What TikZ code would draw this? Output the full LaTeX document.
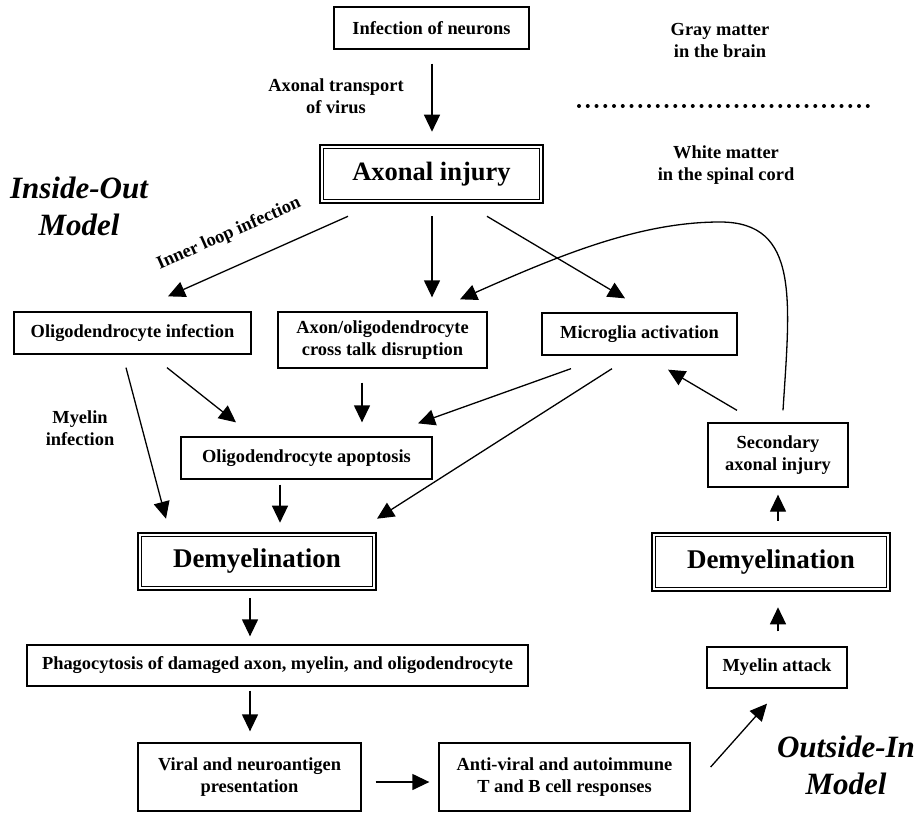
\documentclass[tikz,border=0pt]{standalone}
\usepackage{fontspec}
\setmainfont{Liberation Serif}
\usetikzlibrary{arrows.meta,calc}
\tikzset{
  box/.style={draw, line width=1.3pt, inner sep=0pt, align=center,
    font=\bfseries\fontsize{18.4}{22}\selectfont},
  dbox/.style={draw, line width=2.6pt, inner sep=0pt, align=center,
    font=\bfseries\fontsize{27}{30}\selectfont},
  inframe/.style={line width=1pt},
  lbl/.style={inner sep=0pt, align=center, font=\bfseries\fontsize{18.4}{22}\selectfont},
  model/.style={inner sep=0pt, align=center, font=\bfseries\itshape\fontsize{31}{37}\selectfont},
  arr/.style={line width=1.3pt, -{Triangle[length=17pt,width=16pt]}}
}
\begin{document}
\begin{tikzpicture}[x=1pt,y=-1pt]
\fill[white] (0,0) rectangle (921,814);
\useasboundingbox (0,0) rectangle (921,814);

% nodes
\node[box, minimum width=195pt, minimum height=42pt] (inf) at (431.5,28) {Infection of neurons};
\node[dbox, minimum width=223pt, minimum height=58pt, font=\bfseries\fontsize{26.5}{30}\selectfont] (ax) at (431.5,174) {Axonal injury};
\node[box, minimum width=237pt, minimum height=42pt] (oi) at (132.5,333) {Oligodendrocyte infection};
\node[box, minimum width=209pt, minimum height=56pt] (ct) at (382.5,340) {Axon/oligodendrocyte\\cross talk disruption};
\node[box, minimum width=195pt, minimum height=42pt] (mg) at (639.5,334) {Microglia activation};
\node[box, minimum width=251pt, minimum height=42pt] (ap) at (306.5,458) {Oligodendrocyte apoptosis};
\node[dbox, minimum width=238pt, minimum height=57pt] (dl) at (257,561.5) {Demyelination};
\node[box, minimum width=501pt, minimum height=41pt] (ph) at (277.5,665.5) {Phagocytosis of damaged axon, myelin, and oligodendrocyte};
\node[box, minimum width=223pt, minimum height=68pt] (vi) at (249.5,777) {Viral and neuroantigen\\presentation};
\node[box, minimum width=251pt, minimum height=68pt] (av) at (564.5,777) {Anti-viral and autoimmune\\T and B cell responses};
\node[box, minimum width=140pt, minimum height=41pt] (ma) at (777,667.5) {Myelin attack};
\node[dbox, minimum width=238pt, minimum height=58pt] (dr) at (771,562) {Demyelination};
\node[box, minimum width=140pt, minimum height=64pt] (sec) at (778,455) {Secondary\\axonal injury};

% inner frames of the double boxes
\foreach \n in {ax,dl,dr}{
  \draw[inframe] ([shift={(5,5)}]\n.north west) rectangle ([shift={(-5,-5)}]\n.south east);
}

% labels
\node[lbl] (tr) at (336,96) {Axonal transport\\of virus};
\node[lbl] (gm) at (720,40.5) {Gray matter\\in the brain};
\node[lbl] (wm) at (726,165) {White matter\\in the spinal cord};
\node[lbl] (mi) at (80,428) {Myelin\\infection};
\node[lbl, rotate=24] (il) at (229,234) {Inner loop infection};
\node[model] (io) at (79,206) {Inside-Out\\Model};
\node[model] (oin) at (846,765) {Outside-In\\Model};

% dotted separator
\draw[line width=4pt, line cap=round, dash pattern=on 0pt off 8.75pt] (579,106) -- (868,106);

% connectors
\draw[arr] ([shift={(0.5,14)}]inf.south) -- ([shift={(0.5,-12)}]ax.north);
\draw[arr] ([shift={(-83.5,12)}]ax.south) -- ([shift={(35.5,-15)}]oi.north);
\draw[arr] ([shift={(0.5,12)}]ax.south) -- ([shift={(49.5,-14)}]ct.north);
\draw[arr] ([shift={(55.5,12)}]ax.south) -- ([shift={(-14.5,-14)}]mg.north);
\draw[arr] ([shift={(-6.5,13)}]oi.south) -- ([shift={(-91,-13)}]dl.north);
\draw[arr] ([shift={(34.5,13)}]oi.south) -- ([shift={(-70.5,-14)}]ap.north);
\draw[arr] ([shift={(-20.5,14)}]ct.south) -- ([shift={(55.5,-14)}]ap.north);
\draw[arr] ([shift={(-68.5,13)}]mg.south) -- ([shift={(111.5,-13)}]ap.north);
\draw[arr] ([shift={(-27.5,13)}]mg.south) -- ([shift={(120,-13)}]dl.north);
\draw[arr] ([shift={(-26.5,5)}]ap.south) -- ([shift={(23,-9)}]dl.north);
\draw[arr] ([shift={(-7,7)}]dl.south) -- ([shift={(-27.5,-8)}]ph.north);
\draw[arr] ([shift={(-27.5,4)}]ph.south) -- ([shift={(0.5,-11)}]vi.north);
\draw[arr] ([shift={(14,5)}]vi.east) -- ([shift={(-9,5)}]av.west);
\draw[arr] ([shift={(20,-10)}]av.east) -- ([shift={(-10,15)}]ma.south);
\draw[arr] ([shift={(1,-15)}]ma.north) -- ([shift={(7,15)}]dr.south);
\draw[arr] ([shift={(7,-11)}]dr.north) -- ([shift={(0,7)}]sec.south);
\draw[arr] ([shift={(-41,-12)}]sec.north) -- ([shift={(28.5,14)}]mg.south);
\coordinate (loop) at (720,222);
\draw[arr] ([shift={(5,-12)}]sec.north) .. controls (790,300) and (800,222) .. (loop)
  .. controls (640,222) and (560,255) .. ([shift={(77.5,-12)}]ct.north);
\end{tikzpicture}
\end{document}
